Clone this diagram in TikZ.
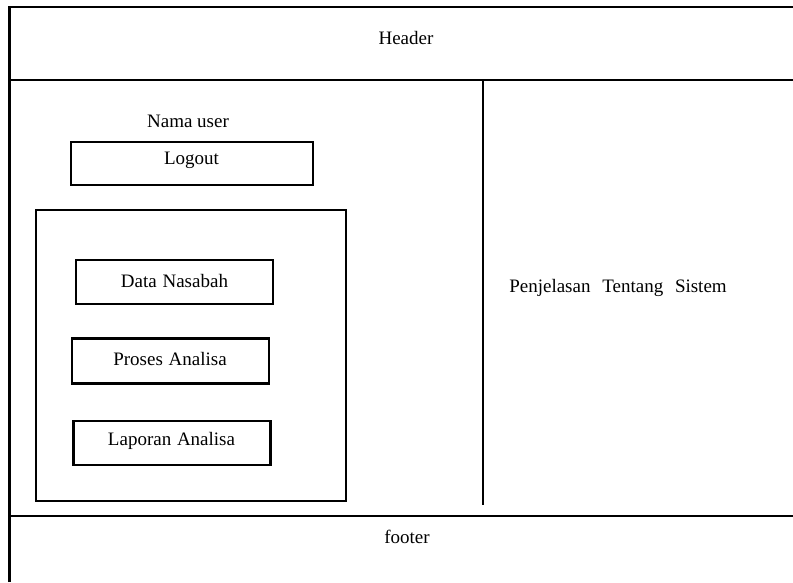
\documentclass[tikz,border=0pt]{standalone}
\usepackage{fontspec}
\setmainfont{Liberation Serif}
\begin{document}
\begin{tikzpicture}[x=1pt,y=-1pt,
  frame/.style={line width=2.6pt},
  box/.style={draw,line width=2.4pt,inner sep=0pt},
  label/.style={font=\fontsize{19}{22}\selectfont,inner sep=0pt}]
\useasboundingbox (0,0) rectangle (793,582);
% page frame
\draw[frame] (9.5,582) -- (9.5,7) -- (793,7);
\draw[frame] (9.5,80) -- (793,80);
\draw[frame] (11,516) -- (793,516);
\draw[frame] (483,80) -- (483,505);
% header and footer
\node[label] (header) at (406,38) {Header};
\node[label] (footer) at (407,537) {footer};
% user area
\node[label] (user) at (188,121) {Nama user};
\node[box,minimum width=242pt,minimum height=43pt] (logout) at (191.7,163.3) {};
\node[label] (logouttxt) at (191.5,160.5) {Logout};
% menu panel
\node[box,minimum width=310pt,minimum height=291pt] (menu) at (191,355.5) {};
\node[box,minimum width=197pt,minimum height=44pt] (nasabah) at (174.3,282) {};
\node[label] (nasabahtxt) at (174.5,280.5) {Data\hspace{1pt} Nasabah};
\node[box,minimum width=197pt,minimum height=45pt] (proses) at (170.3,360.8) {};
\node[label] (prosestxt) at (170,359) {Proses\hspace{1pt} Analisa};
\node[box,minimum width=197pt,minimum height=44pt] (laporan) at (172,442.8) {};
\node[label] (laporantxt) at (171.5,441) {Laporan\hspace{1pt} Analisa};
% content area
\node[label] (info) at (618,288) {Penjelasan\hspace{7pt} Tentang\hspace{7pt} Sistem};
\end{tikzpicture}
\end{document}
